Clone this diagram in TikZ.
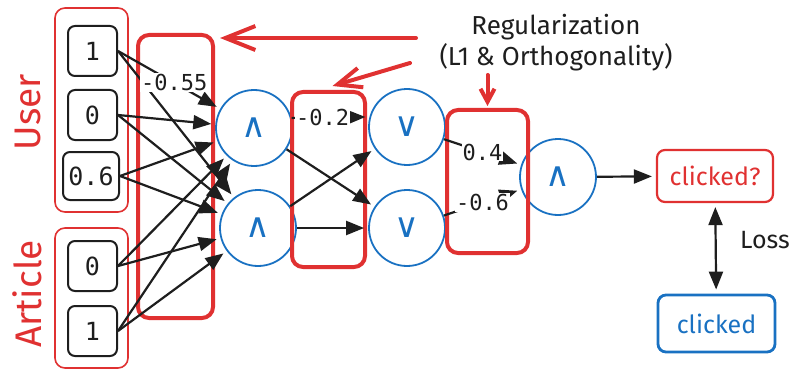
\documentclass[tikz,border=0pt]{standalone}
\usepackage{fontspec}
\setmainfont{Fira Sans}
\setmonofont{DejaVu Sans Mono}
\newfontfamily\opfont{DejaVu Sans}
\usetikzlibrary{arrows.meta,positioning,calc}
\definecolor{xred}{HTML}{E03131}
\definecolor{xblue}{HTML}{1971C2}
\definecolor{xink}{HTML}{1E1E1E}
\begin{document}
\begin{tikzpicture}[x=1pt, y=-1pt,
  font=\fontsize{25}{28}\selectfont, >={Triangle[length=18pt,width=14pt]},
  val/.style={draw=xink, line width=2pt, rounded corners=7pt, minimum width=49pt, minimum height=50pt, inner sep=0pt, text=xink, font=\ttfamily\fontsize{25}{27}\selectfont},
  grp/.style={draw=xred, line width=1.6pt, rounded corners=10pt, inner sep=0pt},
  regbox/.style={draw=xred, line width=4pt, rounded corners=11pt, inner sep=0pt},
  op/.style={circle, draw=xblue, line width=1.8pt, minimum size=76pt, inner sep=0pt, text=xblue, font=\opfont\fontsize{34}{36}\selectfont},
  side/.style={text=xred, rotate=90, font=\fontsize{37}{40}\selectfont},
  wire/.style={->, line width=2.2pt, xink, shorten >=4pt},
  wt/.style={fill=white, inner sep=1pt, text=xink, font=\ttfamily\fontsize{22}{24}\selectfont},
  pen/.style={line width=4pt, xred, line cap=round},
]
  \useasboundingbox (0,0) rectangle (796,369);
  \node[grp, minimum width=73pt, minimum height=204pt] (user) at (91.5,110) {};
  \node[grp, minimum width=73pt, minimum height=140pt] (article) at (91.5,298) {};
  \node[val] (u1) at (92.5,51) {1};
  \node[val] (u2) at (92.5,115) {0};
  \node[val, minimum width=56pt, minimum height=48pt] (u3) at (91,176) {0.6};
  \node[val] (a1) at (92.5,266) {0};
  \node[val] (a2) at (92.5,331) {1};
  \node[side] (userlbl) at (28,112) {User};
  \node[side] (artlbl) at (27,294) {Article};
  \node[op] (n1) at (254,128) {∧};
  \node[op] (n2) at (258,228) {∧};
  \node[op] (o1) at (407,127) {∨};
  \node[op] (o2) at (407,228) {∨};
  \node[op] (out) at (558,177) {∧};
  \node[regbox, minimum width=75pt, minimum height=283pt] (w1) at (175.5,176.5) {};
  \node[regbox, minimum width=73pt, minimum height=175pt] (w2) at (328.5,179.5) {};
  \node[regbox, minimum width=81pt, minimum height=143pt] (w3) at (487.5,181.5) {};
  \node[draw=xred, line width=2.2pt, rounded corners=8pt, minimum width=116pt, minimum height=52pt, text=xred] (pred) at (715,176) {clicked?};
  \node[draw=xblue, line width=2.8pt, rounded corners=8pt, minimum width=117pt, minimum height=57pt, text=xblue] (gold) at (716.5,323.5) {clicked};
  \node[text=xink] (loss) at (765,240) {Loss};
  \node[align=center, text=xink, font=\fontsize{26}{31}\selectfont] (regtxt) at (556,43) {Regularization\\(L1 \& Orthogonality)};
  \foreach \s in {u2,u3,a1,a2} \draw[wire] (\s.east) -- (n1);
  \foreach \s in {u1,u2,u3,a1,a2} \draw[wire] (\s.east) -- (n2);
  \draw[wire] (u1.east) -- node[wt, pos=0.55] (wa) {-0.55} (n1);
  \draw[wire] (n1.15) -- node[wt, pos=0.4] (wb) {-0.2} (o1.165);
  \draw[wire] (n1) -- (o2);
  \draw[wire] (n2) -- (o1);
  \draw[wire] (n2) -- (o2);
  \draw[wire] (o1) -- node[wt] (wc) {0.4} (out);
  \draw[wire] (o2) -- node[wt] (wd) {-0.6} (out);
  \draw[wire] (out) -- (pred);
  \draw[wire, <->, shorten <=4pt] (pred) -- (gold);
  \coordinate (r1) at (416,38);
  \coordinate (r2) at (410,63);
  \draw[pen, -{Straight Barb[length=30pt,width=24pt]}] (r1) -- ([xshift=5pt,yshift=-5pt]w1.north east);
  \draw[pen, -{Straight Barb[length=24pt,width=20pt]}] (r2) -- ([xshift=4pt,yshift=4pt]w2.north);
  \draw[pen, -{Straight Barb[length=13pt,width=14pt]}] (w3.north |- regtxt.south) -- ([yshift=2pt]w3.north);
\end{tikzpicture}
\end{document}
